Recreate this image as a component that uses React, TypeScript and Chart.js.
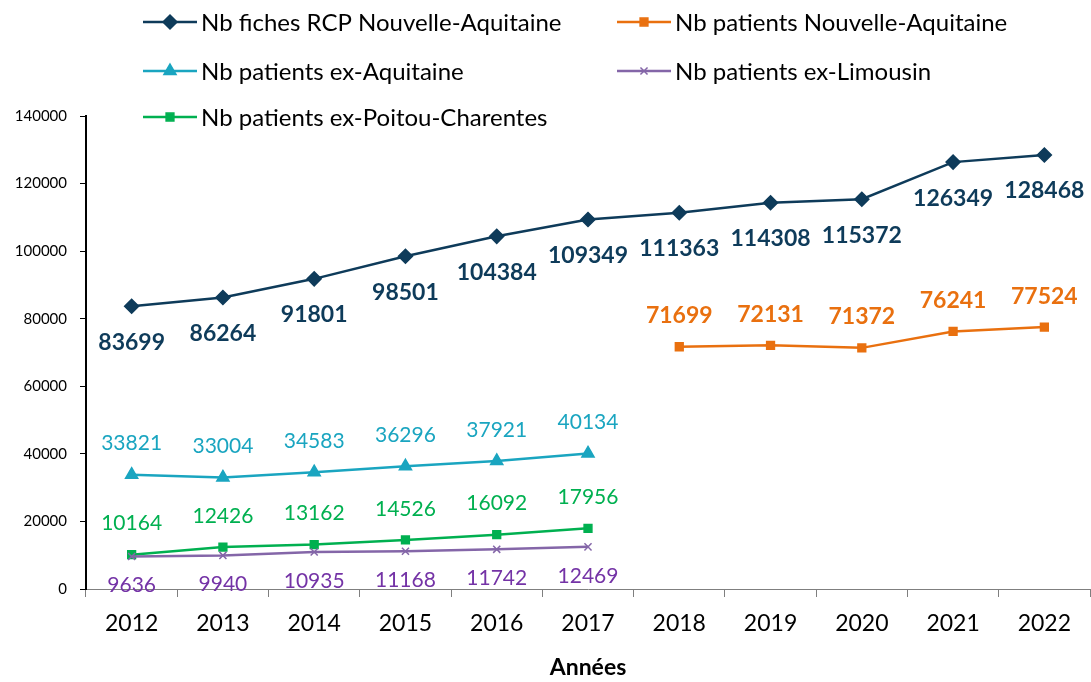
import React, { useEffect, useRef } from "react";
import { Chart, registerables } from "chart.js";
import { drawPoint } from "chart.js/helpers";

Chart.register(...registerables);

const years = ["2012", "2013", "2014", "2015", "2016", "2017", "2018", "2019", "2020", "2021", "2022"];
const fichesNA = [83699, 86264, 91801, 98501, 104384, 109349, 111363, 114308, 115372, 126349, 128468];
const patientsNA = [null, null, null, null, null, null, 71699, 72131, 71372, 76241, 77524];
const patientsAquitaine = [33821, 33004, 34583, 36296, 37921, 40134, null, null, null, null, null];
const patientsLimousin = [9636, 9940, 10935, 11168, 11742, 12469, null, null, null, null, null];
const patientsPoitou = [10164, 12426, 13162, 14526, 16092, 17956, null, null, null, null, null];
const yTicks = [0, 20000, 40000, 60000, 80000, 100000, 120000, 140000];

const FONT = "Lato, 'Open Sans', sans-serif";

const NAVY = "#0E3B5A";
const ORANGE = "#E9700F";
const CYAN = "#1AA5C0";
const PURPLE_LINE = "#8466A8";
const PURPLE_TEXT = "#7433A6";
const GREEN = "#00B050";

type Extra = { labelColor: string; labelFont: string; labelOffset: number; legendCol: number; legendRow: number };

const labelPlugin = {
  id: "valueLabels",
  afterDatasetsDraw(chart: any) {
    const ctx = chart.ctx;
    chart.data.datasets.forEach((ds: any, i: number) => {
      const meta = chart.getDatasetMeta(i);
      const ex: Extra = ds.extra;
      ctx.save();
      ctx.fillStyle = ex.labelColor;
      ctx.font = ex.labelFont;
      ctx.textAlign = "center";
      ctx.textBaseline = "middle";
      meta.data.forEach((pt: any, j: number) => {
        const v = ds.data[j];
        if (v === null || v === undefined) return;
        ctx.fillText(String(v), pt.x, pt.y + ex.labelOffset);
      });
      ctx.restore();
    });
  },
};

const legendPlugin = {
  id: "customLegend",
  afterDraw(chart: any) {
    const ctx = chart.ctx;
    const colX = [143, 617];
    const rowY = [22, 71, 117];
    const lineLen = 54;
    chart.data.datasets.forEach((ds: any) => {
      const ex: Extra = ds.extra;
      const x0 = colX[ex.legendCol];
      const y = rowY[ex.legendRow];
      ctx.save();
      ctx.strokeStyle = ds.borderColor;
      ctx.lineWidth = ds.borderWidth;
      ctx.beginPath();
      ctx.moveTo(x0, y);
      ctx.lineTo(x0 + lineLen, y);
      ctx.stroke();
      ctx.fillStyle = ds.pointBackgroundColor;
      ctx.strokeStyle = ds.pointBorderColor;
      ctx.lineWidth = 1.5;
      drawPoint(ctx, { pointStyle: ds.pointStyle, radius: ds.pointRadius, rotation: 0, borderWidth: 1.5 } as any, x0 + lineLen / 2, y);
      ctx.fillStyle = "#000";
      ctx.font = `24px ${FONT}`;
      ctx.textAlign = "left";
      ctx.textBaseline = "middle";
      ctx.fillText(ds.label, x0 + lineLen + 4, y + 1);
      ctx.restore();
    });
  },
};

export default function App() {
  const ref = useRef<HTMLCanvasElement | null>(null);

  useEffect(() => {
    if (!ref.current) return;
    const mk = (label: string, data: any[], color: string, pointStyle: string, radius: number, ex: Extra, ptColor?: string) => ({
      label,
      data,
      borderColor: color,
      backgroundColor: ptColor || color,
      pointBackgroundColor: ptColor || color,
      pointBorderColor: ptColor || color,
      borderWidth: 2.5,
      pointStyle,
      pointRadius: radius,
      pointHoverRadius: radius,
      pointBorderWidth: 1.5,
      spanGaps: false,
      tension: 0,
      clip: false,
      extra: ex,
    });
    const chart = new Chart(ref.current, {
      type: "line",
      data: {
        labels: years,
        datasets: [
          mk("Nb fiches RCP Nouvelle-Aquitaine", fichesNA, NAVY, "rectRot", 7, { labelColor: NAVY, labelFont: `bold 23px ${FONT}`, labelOffset: 36, legendCol: 0, legendRow: 0 }),
          mk("Nb patients Nouvelle-Aquitaine", patientsNA, ORANGE, "rect", 5.5, { labelColor: ORANGE, labelFont: `bold 23px ${FONT}`, labelOffset: -31, legendCol: 1, legendRow: 0 }),
          mk("Nb patients ex-Aquitaine", patientsAquitaine, CYAN, "triangle", 7, { labelColor: CYAN, labelFont: `21px ${FONT}`, labelOffset: -31, legendCol: 0, legendRow: 1 }),
          mk("Nb patients ex-Limousin", patientsLimousin, PURPLE_LINE, "crossRot", 5, { labelColor: PURPLE_TEXT, labelFont: `21px ${FONT}`, labelOffset: 29, legendCol: 1, legendRow: 1 }),
          mk("Nb patients ex-Poitou-Charentes", patientsPoitou, GREEN, "rect", 5.5, { labelColor: GREEN, labelFont: `21px ${FONT}`, labelOffset: -31, legendCol: 0, legendRow: 2 }),
        ] as any,
      },
      options: {
        responsive: false,
        animation: false,
        layout: { autoPadding: false, padding: { top: 116, right: 1, left: 0, bottom: 0 } },
        plugins: { legend: { display: false }, tooltip: { enabled: false }, title: { display: false } },
        scales: {
          x: {
            type: "category",
            offset: true,
            grid: { display: true, drawOnChartArea: false, drawTicks: true, tickLength: 8, color: "#7f7f7f", offset: true, lineWidth: 1 },
            border: { display: true, color: "#7f7f7f", width: 1 },
            ticks: { color: "#000", font: { family: FONT, size: 23 }, padding: 13, maxRotation: 0 },
            title: { display: true, text: "Années", color: "#000", font: { family: FONT, size: 23, weight: "bold" }, padding: { top: 4, bottom: 1 } },
            afterFit: (s: any) => { s.height = 93; },
          },
          y: {
            type: "linear",
            min: 0,
            max: 140000,
            afterBuildTicks: (s: any) => { s.ticks = yTicks.map((v) => ({ value: v })); },
            grid: { display: true, drawOnChartArea: false, drawTicks: true, tickLength: 6, color: "#000", lineWidth: 1 },
            border: { display: true, color: "#000", width: 2 },
            ticks: { color: "#000", font: { family: FONT, size: 15 }, padding: 13, callback: (v: any) => String(v) },
            afterFit: (s: any) => { s.width = 86; },
          },
        },
      } as any,
      plugins: [labelPlugin, legendPlugin],
    });
    return () => chart.destroy();
  }, []);

  return (
    <div style={{ position: "absolute", left: 0, top: 0, width: 1091, height: 682, background: "#fff" }}>
      <canvas ref={ref} width={1091} height={682} style={{ display: "block" }} />
    </div>
  );
}
